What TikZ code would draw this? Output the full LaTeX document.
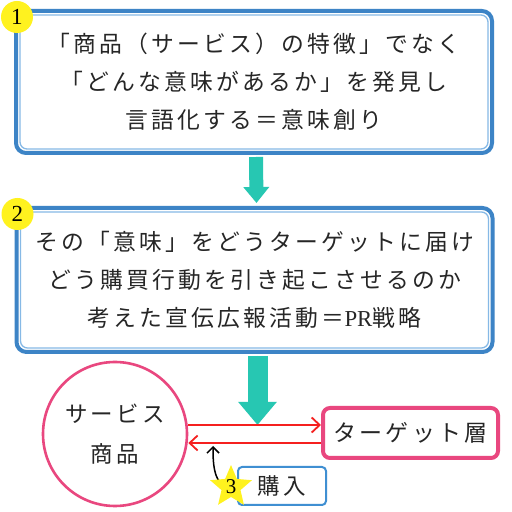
\documentclass[tikz,border=0pt]{standalone}
\usepackage{fontspec}
\usetikzlibrary{arrows.meta,shapes.geometric,positioning}
\newfontfamily\jpfont[LetterSpace=14]{Noto Sans CJK JP}
\newfontfamily\serffont{Liberation Serif}
\definecolor{boxblue}{HTML}{3D84C6}
\definecolor{lineblue}{HTML}{86B9E6}
\definecolor{buyblue}{HTML}{3F8FD2}
\definecolor{flowteal}{HTML}{27C7B2}
\definecolor{goodspink}{HTML}{E9477F}
\definecolor{linkred}{HTML}{F5201F}
\definecolor{dotyellow}{HTML}{FFF21F}
\definecolor{ink}{HTML}{262626}
\newcommand{\lat}[1]{{\serffont #1}}

\begin{document}
\begin{tikzpicture}[x=1pt,y=1pt,
	bigbox/.style={draw=boxblue,line width=4pt,rounded corners=10pt,minimum width=476pt,align=center,text=ink,font=\jpfont\fontsize{22.8}{38}\selectfont},
	innerline/.style={draw=lineblue,line width=1.3pt,rounded corners=7pt},
	numdot/.style={circle,fill=dotyellow,minimum size=32pt,inner sep=0pt,font=\serffont\fontsize{23}{23}\selectfont},
	flow/.style={draw=flowteal,fill=flowteal},
	goods/.style={circle,draw=goodspink,line width=2.6pt,minimum size=144pt,inner sep=0pt,align=center,text=ink,font=\jpfont\fontsize{22.5}{40}\selectfont},
	target/.style={draw=goodspink,line width=4pt,rounded corners=7pt,minimum width=175pt,minimum height=50pt,text=ink,font=\jpfont\fontsize{23}{23}\selectfont},
	link/.style={draw=linkred,line width=1.8pt,-{Straight Barb[length=8pt,width=15pt]}},
	buybox/.style={draw=buyblue,line width=2pt,rounded corners=4pt,minimum width=88pt,minimum height=38pt,text=ink,font=\jpfont\fontsize{22.5}{22.5}\selectfont},
	star5/.style={star,star points=5,star point ratio=2.2,fill=dotyellow,minimum size=40pt,inner sep=0pt,font=\serffont\fontsize{21}{21}\selectfont},
	buyarrow/.style={draw=black,line width=1.5pt,-{Straight Barb[length=6pt,width=12pt]}}]
	\useasboundingbox (0,0) rectangle (512,512);
	\fill[white] (0,0) rectangle (512,512);

	\node[bigbox,minimum height=142pt] (b1) at (254,430) {「商品（サービス）の特徴」でなく\\「どんな意味があるか」を発見し\\言語化する＝意味創り};
	\draw[innerline] ([xshift=6pt,yshift=-6pt]b1.north west) rectangle ([xshift=-6pt,yshift=6pt]b1.south east);
	\node[numdot] (n1) at ([xshift=3pt,yshift=-8pt]b1.north west) {1};

	\node[bigbox,minimum height=144pt] (b2) at (254.5,232) {その「意味」をどうターゲットに届け\\どう購買行動を引き起こさせるのか\\考えた宣伝広報活動＝\lat{PR}戦略};
	\draw[innerline] ([xshift=6pt,yshift=-6pt]b2.north west) rectangle ([xshift=-6pt,yshift=6pt]b2.south east);
	\node[numdot] (n2) at ([xshift=3pt,yshift=-8pt]b2.north west) {2};

	\draw[flow,line width=14pt,-{Triangle[width=25pt,length=16pt]}] ([xshift=2pt,yshift=-2pt]b1.south) -- ([xshift=2pt,yshift=3pt]b2.north);

	\node[goods] (svc) at (115,78) {サービス\\商品};
	\node[target] (tgt) at (410.5,79) {ターゲット層};
	\coordinate (hit) at (257.5,87);
	\draw[flow,line width=20pt,-{Triangle[width=37pt,length=23pt]}] ([xshift=3pt,yshift=-2pt]b2.south) -- (hit);

	\draw[link] ([yshift=9pt]svc.east) -- ([yshift=8pt]tgt.west);
	\draw[link] ([yshift=-10pt]tgt.west) -- ([yshift=-9pt]svc.east);

	\node[buybox] (buy) at (282,26) {購入};
	\coordinate (buyin) at (213,66);
	\node[star5] (st) at (231,25) {};
	\draw[buyarrow] (st.center) to[out=180,in=-90] (buyin);
	\node[star5] (st3) at (st.center) {3};
\end{tikzpicture}
\end{document}
